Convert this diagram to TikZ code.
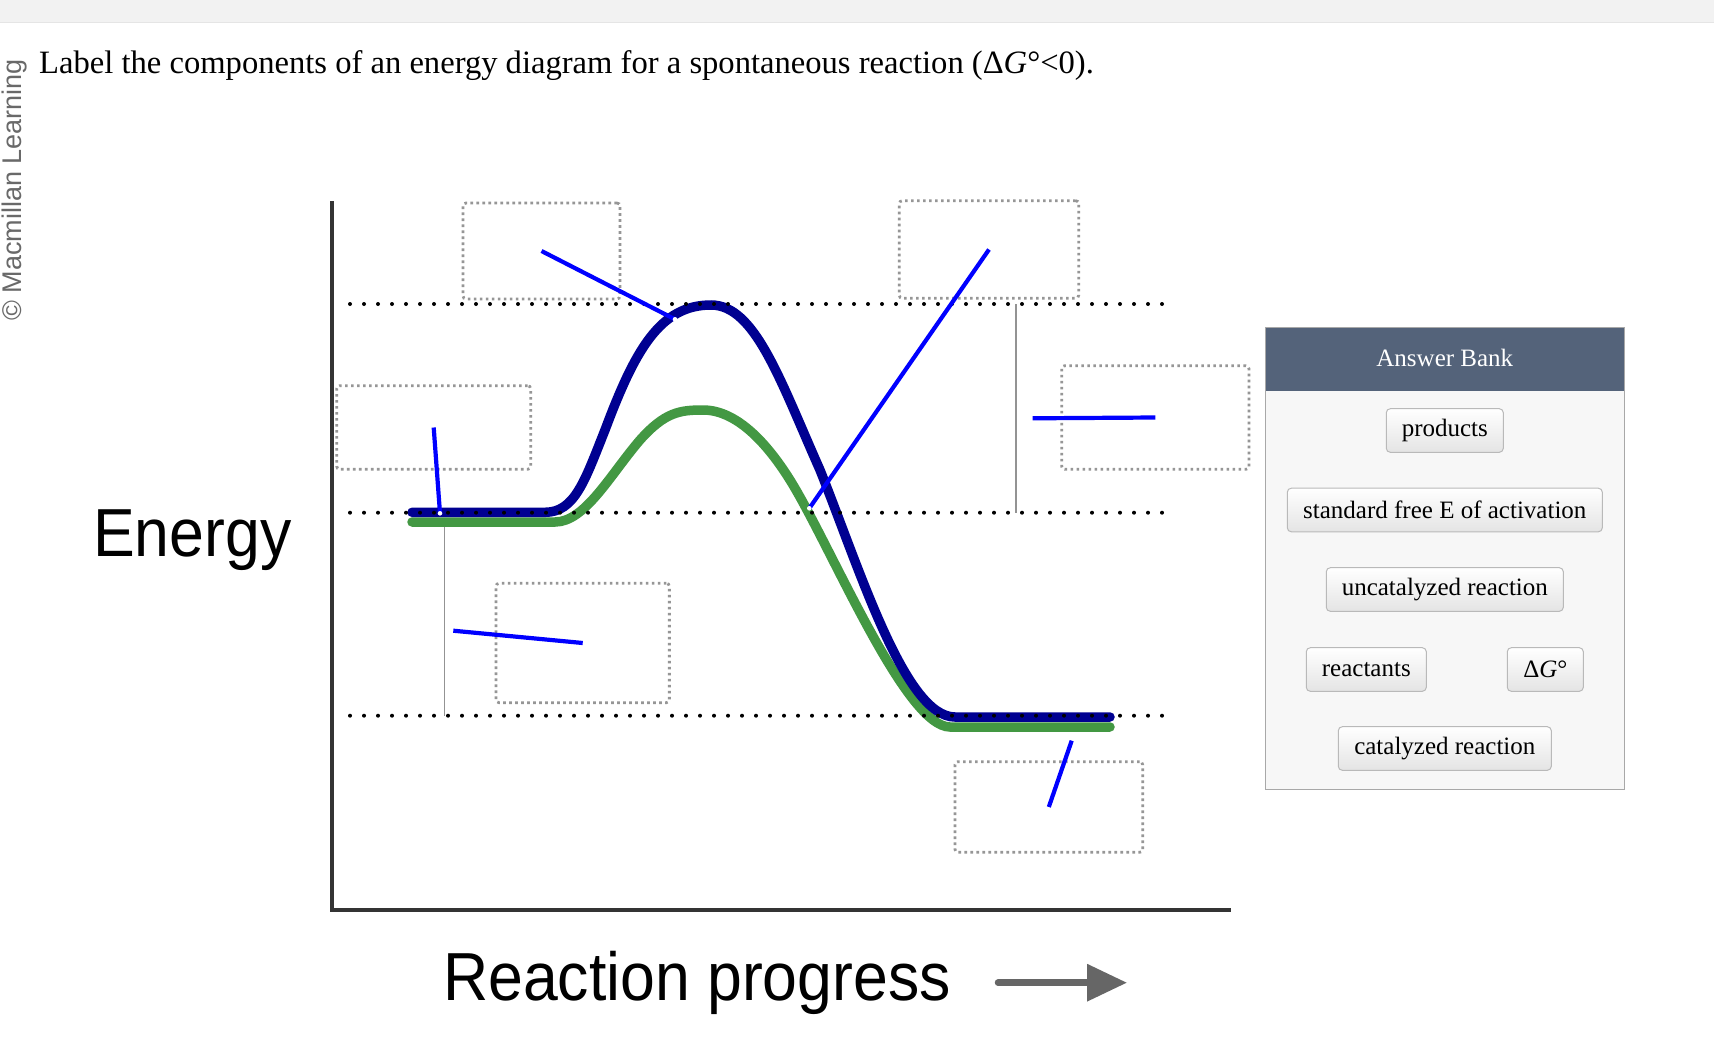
\documentclass[tikz,border=0pt]{standalone}
\usepackage{fontspec}
\setmainfont{Liberation Serif}
\newfontfamily\sansf{Liberation Sans}
\usetikzlibrary{arrows.meta}
\definecolor{navycurve}{RGB}{0,0,145}
\definecolor{greencurve}{RGB}{67,152,67}
\definecolor{boxgray}{RGB}{150,150,150}
\definecolor{pinblue}{RGB}{0,0,255}
\definecolor{axisgray}{RGB}{52,52,52}
\definecolor{headerslate}{RGB}{84,99,122}
\definecolor{panelbg}{RGB}{247,247,247}
\definecolor{panelborder}{RGB}{168,168,168}
\definecolor{btnborder}{RGB}{185,185,185}
\definecolor{btnbottom}{RGB}{228,228,228}
\definecolor{topbar}{RGB}{242,242,242}
\definecolor{wmgray}{RGB}{105,105,105}
\definecolor{arrowgray}{RGB}{102,102,102}
\begin{document}
\begin{tikzpicture}[x=1pt,y=-1pt,
  guide/.style={line width=4pt, line cap=round, dash pattern=on 0pt off 14pt},
  dropbox/.style={draw=boxgray, line width=2.8pt, dash pattern=on 2.6pt off 3.4pt, rounded corners=3pt, inner sep=0pt},
  pinline/.style={draw=pinblue, line width=4.2pt},
  curve/.style={line width=9.5pt, line cap=round},
  thinv/.style={draw=gray!85, line width=1.1pt},
  axisline/.style={draw=axisgray, line width=3.3pt},
  btn/.style={draw=btnborder, line width=1pt, rounded corners=4pt, top color=white, bottom color=btnbottom, minimum height=43.6pt, inner sep=0pt, font=\fontsize{25}{30}\selectfont},
  bigsans/.style={font=\sansf\fontsize{68}{74}\selectfont, inner sep=0pt, xscale=0.92}
]
\useasboundingbox (0,0) rectangle (1714,1044);
\fill[white] (0,0) rectangle (1714,1044);
\fill[topbar] (0,0) rectangle (1714,22);
\draw[gray!20, line width=1pt] (0,22) -- (1714,22);

% title and watermark
\node[anchor=base west, inner sep=0pt, font=\fontsize{32.6}{38}\selectfont] (title) at (39,73)
  {Label the components of an energy diagram for a spontaneous reaction (Δ\textit{G}°<0).};
\node[anchor=base west, inner sep=0pt, rotate=90, text=wmgray, font=\sansf\fontsize{27}{31}\selectfont] (wm) at (21,321) {© Macmillan Learning};

% axes
\coordinate (ytop) at (332,201);
\coordinate (origin) at (332,910);
\coordinate (xend) at (1231,910);
\draw[axisline] (ytop) -- (origin) -- (xend);

% thin vertical markers
\coordinate (va1) at (1016,304);
\coordinate (va2) at (1016,512.7);
\coordinate (vb1) at (444.3,522);
\coordinate (vb2) at (444.3,715.7);
\draw[thinv] (va1) -- (va2);
\draw[thinv] (vb1) -- (vb2);

% curves
\draw[curve, greencurve] (412,522) -- (555,522)
  .. controls (585,522) and (610,475) .. (640,440)
  .. controls (665,412) and (680,410) .. (703,410)
  .. controls (735,410) and (765,440) .. (790,480)
  .. controls (830,544) and (905,727) .. (950,727) -- (1110,727);
\draw[curve, navycurve] (412,512.3) -- (545,512.3)
  .. controls (575,512.3) and (585,480) .. (605,430)
  .. controls (635,350) and (660,305) .. (711,305)
  .. controls (755,305) and (780,380) .. (820,470)
  .. controls (860,570) and (905,717) .. (955,717) -- (1110,717);

% dotted guides
\coordinate (g1a) at (350,304);   \coordinate (g1b) at (1171,304);
\coordinate (g2a) at (350,512.7); \coordinate (g2b) at (1171,512.7);
\coordinate (g3a) at (350,715.7); \coordinate (g3b) at (1171,715.7);
\draw[guide] (g1a) -- (g1b);
\draw[guide] (g2a) -- (g2b);
\draw[guide] (g3a) -- (g3b);

% drop boxes
\node[dropbox, minimum width=157pt, minimum height=96pt] (b1) at (541.5,251) {};
\node[dropbox, minimum width=194pt, minimum height=83.6pt] (b2) at (433.7,427.5) {};
\node[dropbox, minimum width=179.4pt, minimum height=97.6pt] (b3) at (989,249.5) {};
\node[dropbox, minimum width=187.3pt, minimum height=103.6pt] (b4) at (1155.3,417.5) {};
\node[dropbox, minimum width=173.3pt, minimum height=119.4pt] (b5) at (582.7,643) {};
\node[dropbox, minimum width=187.7pt, minimum height=90.6pt] (b6) at (1048.8,807) {};

% pin targets
\coordinate (t1) at (675,319.3);
\coordinate (t2) at (440,513.3);
\coordinate (t3) at (809.3,508.3);
\coordinate (t4) at (1032.7,418.3);
\coordinate (t5) at (453.3,630.7);
\coordinate (t6) at (1071.7,740.7);
\draw[pinline] (b1.center) -- (t1);
\draw[pinline] (b2.center) -- (t2);
\draw[pinline] (b3.center) -- (t3);
\draw[pinline] (b4.center) -- (t4);
\draw[pinline] (b5.center) -- (t5);
\draw[pinline] (b6.center) -- (t6);
\fill[white] (t1) circle (2.3);
\fill[white] (t2) circle (2.3);
\fill[white] (t3) circle (2.3);

% axis labels
\node[bigsans, anchor=base west] (energy) at (93,556) {Energy};
\node[bigsans, anchor=base west] (progress) at (443,1000) {Reaction progress};
\coordinate (pa) at (998,982.7);
\coordinate (pb) at (1127,982.7);
\draw[arrowgray, line width=6.5pt, line cap=round, -{Triangle[length=40pt,width=36pt]}] (pa) -- (pb);

% answer bank
\draw[fill=panelbg, draw=panelborder, line width=1pt] (1265.3,327.3) rectangle (1624.3,789.3);
\fill[headerslate] (1265.8,327.8) rectangle (1623.8,390.7);
\node[anchor=base, inner sep=0pt, text=white, font=\fontsize{25}{30}\selectfont] (bankhead) at (1444.8,366.7) {Answer Bank};
\node[btn, minimum width=117pt] (products) at (1444.8,430.5) {products};
\node[btn, minimum width=315pt] (stdfree) at (1444.8,510) {standard free E of activation};
\node[btn, minimum width=237pt] (uncat) at (1444.8,589.5) {uncatalyzed reaction};
\node[btn, minimum width=120pt] (reactants) at (1366.3,669.5) {reactants};
\node[btn, minimum width=76pt] (dg) at (1545.3,669.5) {Δ\textit{G}°};
\node[btn, minimum width=213pt] (cat) at (1444.8,748.5) {catalyzed reaction};
\end{tikzpicture}
\end{document}
